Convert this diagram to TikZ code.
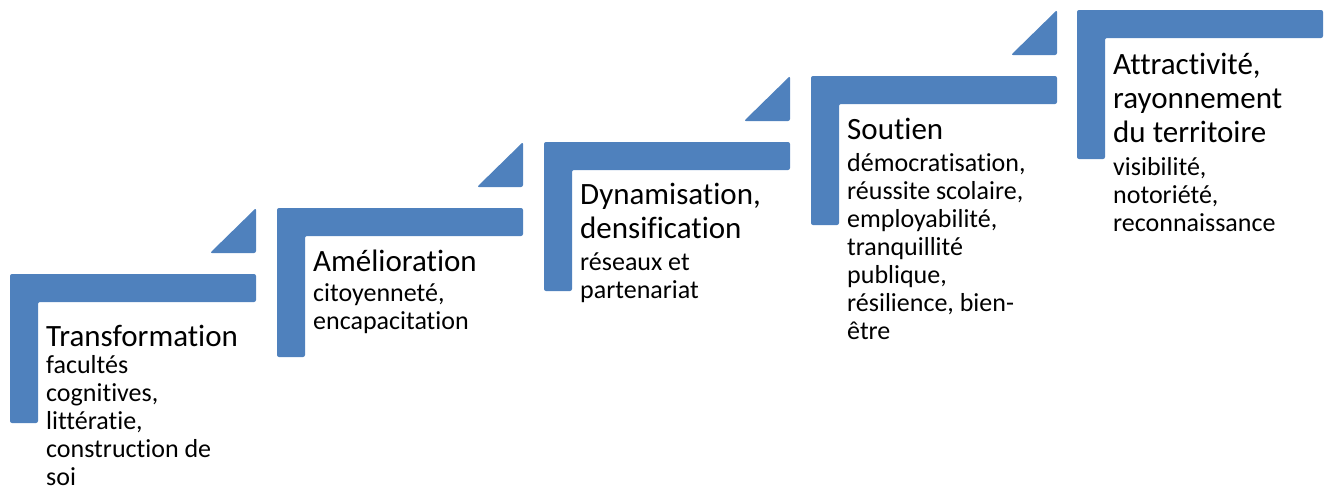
\documentclass[tikz,border=0pt]{standalone}
\usepackage{fontspec}
\setmainfont{Carlito}[Ligatures=NoCommon]
\definecolor{stepblue}{RGB}{79,129,189}

\begin{document}
\begin{tikzpicture}
                    [x=1pt,y=-1pt,
                     stepshape/.style={fill=stepblue,rounded corners=2pt},
                     title/.style={anchor=base west,align=left,inner sep=0pt,font=\fontsize{31}{34}\selectfont},
                     detail/.style={anchor=base west,align=left,inner sep=0pt,font=\fontsize{26}{28}\selectfont}]

                \useasboundingbox (0,0) rectangle (1327,488);

                % the five steps
                \foreach \x/\y in {10/274,277/208,544/142,811/76,1077/10}
                    \fill[stepshape] (\x,\y) -- ++(246,0) -- ++(0,28) -- ++(-218,0) -- ++(0,121) -- ++(-28,0) -- cycle;

                % the small corners pointing up
                \foreach \x/\y in {256/274,523/208,790/142,1057/76}
                    \fill[stepshape] (\x,\y-21) -- ++(-46,0) -- ++(46,-45) -- cycle;

                % texts, placed at the base of their last line
                \node[title] (t1) at (46,346) {Transformation};
                \node[detail] (d1) at (46,485) {facultés\\cognitives,\\littératie,\\construction de\\soi};

                \node[title] (t2) at (313,271) {Amélioration};
                \node[detail] (d2) at (313,329) {citoyenneté,\\encapacitation};

                \node[title] (t3) at (580,238) {Dynamisation,\\densification};
                \node[detail] (d3) at (580,298) {réseaux et\\partenariat};

                \node[title] (t4) at (847,139) {Soutien};
                \node[detail] (d4) at (847,339) {démocratisation,\\réussite scolaire,\\employabilité,\\tranquillité\\publique,\\résilience, bien-\\être};

                \node[title] (t5) at (1113,142) {Attractivité,\\rayonnement\\du territoire};
                \node[detail] (d5) at (1113,231) {visibilité,\\notoriété,\\reconnaissance};

                \end{tikzpicture}
\end{document}
